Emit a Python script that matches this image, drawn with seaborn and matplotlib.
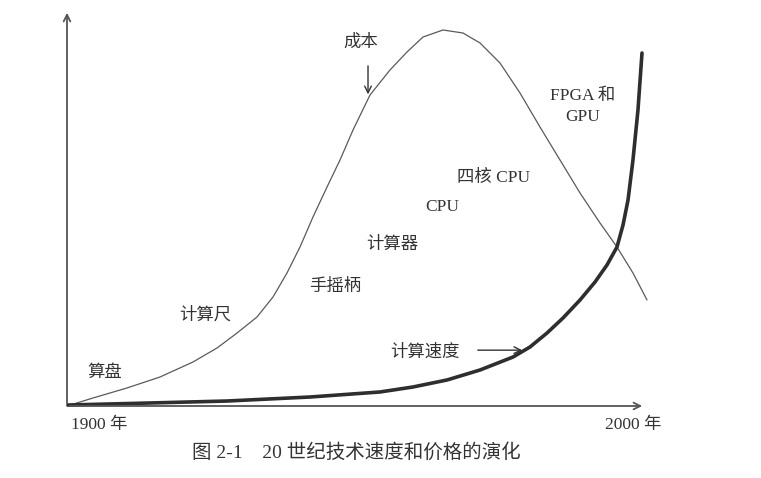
import matplotlib
matplotlib.use("Agg")
import matplotlib.pyplot as plt
import seaborn as sns
import pandas as pd

# ---- data (arbitrary units) ----
cost_years = [1900.0, 1904.52, 1910.43, 1916.17, 1921.91, 1926.09, 1929.57, 1933.04,
              1935.83, 1938.26, 1940.52, 1942.78, 1945.22, 1947.48, 1949.74, 1952.70,
              1956.17, 1959.13, 1961.91, 1965.39, 1968.87, 1971.83, 1975.30, 1978.78,
              1982.26, 1985.74, 1989.22, 1992.70, 1995.65, 1998.43, 2000.87]
cost_values = [0.0, 2.02, 4.55, 7.32, 11.11, 14.65, 18.43, 22.47,
               27.53, 33.59, 40.15, 47.73, 55.30, 62.12, 69.70, 78.54,
               84.85, 89.39, 93.18, 94.95, 94.19, 91.67, 86.62, 79.04,
               70.45, 62.12, 53.79, 46.21, 40.15, 33.59, 26.77]

speed_years = [1900.17, 1914.43, 1927.83, 1942.26, 1954.43, 1960.17, 1966.09, 1971.83,
               1977.57, 1980.52, 1983.48, 1986.26, 1989.22, 1991.83, 1993.91, 1995.65,
               1996.70, 1997.57, 1998.43, 1999.30, 2000.00]
speed_values = [0.25, 0.76, 1.26, 2.27, 3.54, 4.80, 6.57, 9.09,
                12.37, 14.90, 18.43, 22.22, 26.77, 31.31, 35.61, 40.15,
                45.71, 52.02, 62.12, 74.75, 89.14]

era_labels = ["算盘", "计算尺", "手摇柄", "计算器", "CPU", "四核 CPU", "FPGA 和\nGPU"]
era_x = [1906.6, 1924.0, 1946.6, 1956.5, 1965.2, 1974.1, 1989.7]
era_y = [8.3, 23.0, 30.1, 40.7, 50.3, 57.6, 75.6]

x_tick_labels = ["1900 年", "2000 年"]
caption = "图 2-1　20 世纪技术速度和价格的演化"

# ---- drawing ----
sns.set_theme(style="white")
plt.rcParams['font.family'] = ['Liberation Serif', 'Noto Sans CJK SC', 'DejaVu Sans']

W, H = 761, 478
fig = plt.figure(figsize=(W / 100, H / 100), dpi=100)
fig.patch.set_facecolor("white")
x0, y0, x1, y1 = 67, 406, 645, 10
ax = fig.add_axes([x0 / W, 1 - y0 / H, (x1 - x0) / W, (y0 - y1) / H])
ax.set_xlim(1900, 1900 + (x1 - x0) / 5.75)
ax.set_ylim(0, (y0 - y1) / 3.96)
for s in ax.spines.values():
    s.set_visible(False)
ax.set_xticks([])
ax.set_yticks([])
ax.patch.set_alpha(0)

cost_df = pd.DataFrame({"year": cost_years, "value": cost_values})
speed_df = pd.DataFrame({"year": speed_years, "value": speed_values})

sns.lineplot(data=cost_df, x="year", y="value", ax=ax, color="#5a5a5a",
             linewidth=0.9, estimator=None, sort=False)
sns.lineplot(data=speed_df, x="year", y="value", ax=ax, color="#2e2e2e",
             linewidth=2.6, estimator=None, sort=False)
for ln in ax.lines:
    ln.set_clip_on(False)
    ln.set_solid_joinstyle("round")
ax.set_xlabel("")
ax.set_ylabel("")

# axes arrows
arrow_kw = dict(arrowstyle="->", color="#555555", lw=1.3, mutation_scale=12)
ax.annotate("", xy=(0, 1), xytext=(0, 0), xycoords="axes fraction",
            arrowprops=arrow_kw, annotation_clip=False)
ax.annotate("", xy=(1, 0), xytext=(0, 0), xycoords="axes fraction",
            arrowprops=arrow_kw, annotation_clip=False)

txt_color = "#333333"
fs = 12.5
for lab, x, y in zip(era_labels, era_x, era_y):
    ax.text(x, y, lab, ha="center", va="center", fontsize=fs, color=txt_color,
            linespacing=1.45)

# 成本 annotation
ax.text(1951.1, 91.7, "成本", ha="center", va="center", fontsize=fs, color=txt_color)
ax.annotate("", xy=(1952.35, 78.0), xytext=(1952.35, 86.6),
            arrowprops=dict(arrowstyle="->", color="#333333", lw=1.0, mutation_scale=12))
# 计算速度 annotation
ax.text(1968.35, 13.6, "计算速度", ha="right", va="center", fontsize=fs, color=txt_color)
ax.annotate("", xy=(1979.65, 14.1), xytext=(1970.96, 14.1),
            arrowprops=dict(arrowstyle="->", color="#333333", lw=1.0, mutation_scale=12))

# x-end labels
fig.text(71 / W, 1 - 425 / H, x_tick_labels[0], ha="left", va="center",
         fontsize=fs, color=txt_color)
fig.text(605 / W, 1 - 425 / H, x_tick_labels[1], ha="left", va="center",
         fontsize=fs, color=txt_color)

# caption
fig.text(356 / W, 1 - 452 / H, caption, ha="center", va="center",
         fontsize=14, color=txt_color)

fig.savefig("out.png", dpi=100, facecolor="white")
